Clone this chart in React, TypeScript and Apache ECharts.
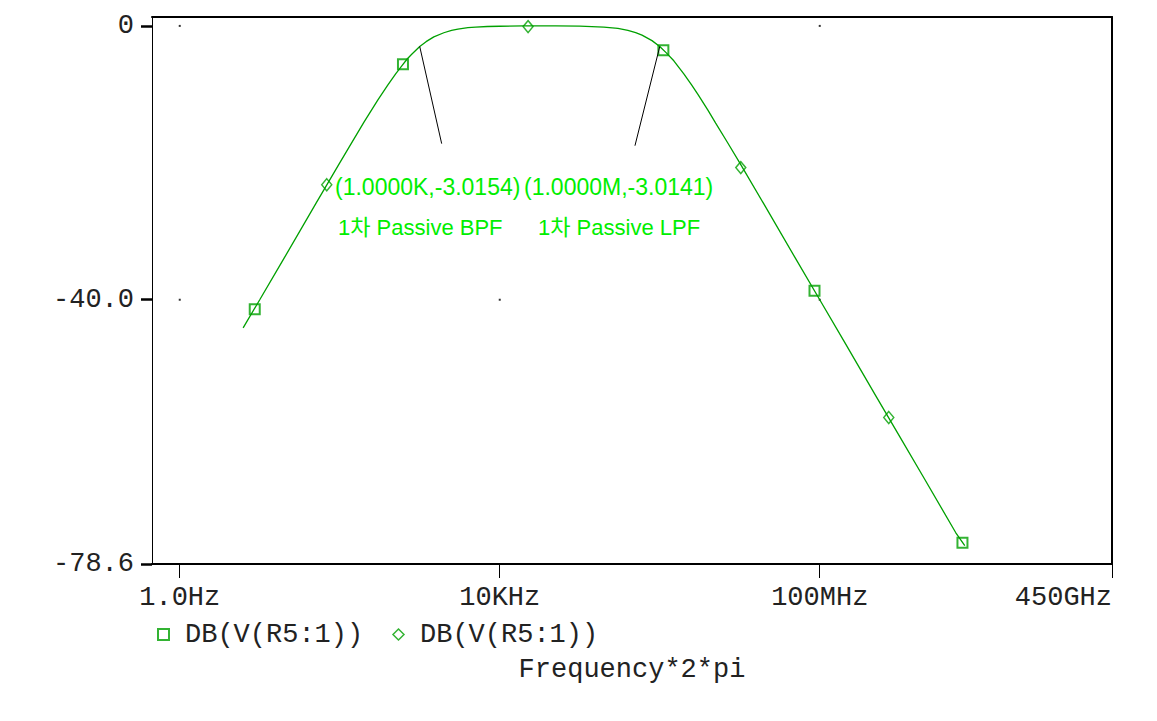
import React, { useEffect, useRef } from "react";
import * as echarts from "echarts";

// Trace: frequency (Hz) and magnitude (dB)
const freqHz = [
  6.2, 10, 20, 50, 100, 200, 300, 400, 500, 600, 700, 800, 1000, 1200, 1500, 2000, 2500, 3000, 4000, 5000, 7000,
  1e4, 2e4, 5e4, 1e5, 2e5, 3e5, 4e5, 5e5, 6e5, 8e5, 1e6, 1.2e6, 1.5e6, 2e6, 2.5e6, 3e6, 4e6, 5e6, 7e6, 1e7, 2e7,
  5e7, 1e8, 2e8, 5e8, 1e9, 2e9, 5e9, 6.5e9,
];
const gainDb = [
  -44.1, -40.0, -34.0, -26.0, -20.0, -14.1, -10.8, -8.6, -7.0, -5.8, -4.8, -4.1, -3.0, -2.3, -1.6, -1.0, -0.64, -0.46,
  -0.26, -0.17, -0.09, -0.05, -0.01, -0.01, -0.04, -0.17, -0.37, -0.64, -0.97, -1.34, -2.15, -3.0, -3.9, -5.1, -7.0,
  -8.6, -10.0, -12.3, -14.2, -17.0, -20.0, -26.0, -34.0, -40.0, -46.0, -54.0, -60.0, -66.0, -74.0, -75.9,
];

// Square markers
const squareFreq = [8.66, 617, 1.11e6, 8.6e7, 6.08e9];
const squareDb = [-41.4, -5.6, -3.55, -38.7, -75.5];
// Diamond markers
const diamondFreq = [68.8, 2.26e4, 1.03e7, 7.29e8];
const diamondDb = [-23.2, -0.1, -20.7, -57.2];

// Axes
const xMinHz = 0.45;
const xMaxHz = 450e9;
const xTickHz = [1, 1e4, 1e8, 450e9];
const xTickLabels = ["1.0Hz", "10KHz", "100MHz", "450GHz"];
const yMin = -78.6;
const yMax = 1.3;
const yTickVals = [0, -40, -78.6];
const yTickLabels = ["0", "-40.0", "-78.6"];

// Cursor annotations: [freq, dB] start (on trace) and end of leader lines
const cursorStart = [
  [1000, -3.0154],
  [1e6, -3.0141],
];
const cursorEnd = [
  [1880, -17.2],
  [4.9e5, -17.5],
];
const cursorTexts = ["(1.0000K,-3.0154)", "(1.0000M,-3.0141)"];
const noteTexts = ["1차 Passive BPF", "1차 Passive LPF"];

const gridDots = [
  [1, 0],
  [1e8, 0],
  [1, -40],
  [1e4, -40],
  [1e8, -40],
];

const lg = (v: number) => Math.log10(v);

export default function App() {
  const ref = useRef<HTMLDivElement>(null);
  useEffect(() => {
    if (!ref.current) return;
    const chart = echarts.init(ref.current, null, { renderer: "svg" });
    const green = "#00a000";
    const textGreen = "#00ee00";
    const mono = '"Liberation Mono", "Courier New", monospace';
    const xTickVals = xTickHz.map(lg);
    const xMin = lg(xMinHz);
    const xMax = lg(xMaxHz);
    const fmtX = (v: number) => {
      const i = xTickVals.findIndex((t) => Math.abs(t - v) < 1e-6);
      return i >= 0 ? xTickLabels[i] : "";
    };
    const fmtY = (v: number) => {
      const i = yTickVals.findIndex((t) => Math.abs(t - v) < 1e-6);
      return i >= 0 ? yTickLabels[i] : "";
    };
    const option: any = {
      animation: false,
      backgroundColor: "#ffffff",
      grid: { left: 152, right: 45, top: 17, bottom: 157, containLabel: false },
      xAxis: [
        {
          type: "value",
          min: xMin,
          max: xMax,
          position: "bottom",
          axisLine: { show: true, onZero: false, lineStyle: { color: "#000", width: 2 } },
          axisTick: { show: true, customValues: xTickVals, length: 14, lineStyle: { color: "#000", width: 1 } },
          axisLabel: {
            customValues: xTickVals,
            formatter: fmtX,
            fontFamily: mono,
            fontSize: 27,
            color: "#222",
            margin: 20,
            alignMaxLabel: "right",
          },
          splitLine: { show: false },
          name: "Frequency*2*pi",
          nameLocation: "middle",
          nameGap: 92,
          nameTextStyle: { fontFamily: mono, fontSize: 27, color: "#222", verticalAlign: "top" },
        },
        {
          type: "value",
          min: xMin,
          max: xMax,
          position: "top",
          axisLine: { show: true, onZero: false, lineStyle: { color: "#000", width: 2 } },
          axisTick: { show: false },
          axisLabel: { show: false },
          splitLine: { show: false },
        },
      ],
      yAxis: [
        {
          type: "value",
          min: yMin,
          max: yMax,
          position: "left",
          axisLine: { show: true, onZero: false, lineStyle: { color: "#000", width: 1 } },
          axisTick: { show: true, customValues: yTickVals, length: 11, lineStyle: { color: "#000", width: 2.5 } },
          axisLabel: {
            customValues: yTickVals,
            formatter: fmtY,
            fontFamily: mono,
            fontSize: 27,
            color: "#222",
            margin: 18,
          },
          splitLine: { show: false },
        },
        {
          type: "value",
          min: yMin,
          max: yMax,
          position: "right",
          axisLine: { show: true, onZero: false, lineStyle: { color: "#000", width: 2 } },
          axisTick: { show: false },
          axisLabel: { show: false },
          splitLine: { show: false },
        },
      ],
      legend: {
        left: 152,
        top: 616,
        itemWidth: 11,
        itemHeight: 11,
        itemGap: 29,
        formatter: () => "DB(V(R5:1))",
        textStyle: { fontFamily: mono, fontSize: 27, color: "#222", padding: [0, 0, 0, 11] },
        data: [
          { name: "sq", icon: "rect", itemStyle: { color: "#fff", borderColor: green, borderWidth: 2 } },
          { name: "dia", icon: "diamond", itemStyle: { color: "#fff", borderColor: green, borderWidth: 1.5 } },
        ],
      },
      series: [
        {
          type: "scatter",
          name: "dots",
          data: gridDots.map((d) => [lg(d[0]), d[1]]),
          symbol: "rect",
          symbolSize: 2,
          itemStyle: { color: "#000" },
          silent: true,
          z: 1,
        },
        {
          type: "line",
          name: "trace",
          data: freqHz.map((f, i) => [lg(f), gainDb[i]]),
          showSymbol: false,
          symbol: "none",
          lineStyle: { color: green, width: 1.3 },
          z: 3,
          markLine: {
            silent: true,
            symbol: "none",
            label: { show: false },
            lineStyle: { color: "#000", width: 1, type: "solid" },
            data: cursorStart.map((s, i) => [
              { coord: [lg(s[0]), s[1]] },
              { coord: [lg(cursorEnd[i][0]), cursorEnd[i][1]] },
            ]),
          },
        },
        {
          type: "scatter",
          name: "sq",
          data: squareFreq.map((f, i) => [lg(f), squareDb[i]]),
          symbol: "rect",
          symbolSize: 10,
          itemStyle: { color: "rgba(255,255,255,0)", borderColor: green, borderWidth: 2 },
          z: 4,
        },
        {
          type: "scatter",
          name: "dia",
          data: diamondFreq.map((f, i) => [lg(f), diamondDb[i]]),
          symbol: "diamond",
          symbolSize: [10, 12],
          itemStyle: { color: "rgba(255,255,255,0)", borderColor: green, borderWidth: 1.5 },
          z: 4,
        },
      ],
      graphic: [
        {
          type: "text",
          x: 335,
          y: 187,
          style: { text: cursorTexts[0], fill: textGreen, font: '23px "Liberation Sans", Arial, sans-serif', verticalAlign: "middle" },
        },
        {
          type: "text",
          x: 524,
          y: 187,
          style: { text: cursorTexts[1], fill: textGreen, font: '23px "Liberation Sans", Arial, sans-serif', verticalAlign: "middle" },
        },
        {
          type: "text",
          x: 338,
          y: 227,
          style: {
            text: noteTexts[0],
            fill: textGreen,
            font: '22px "Liberation Sans", "Noto Sans CJK KR", sans-serif',
            verticalAlign: "middle",
          },
        },
        {
          type: "text",
          x: 538,
          y: 227,
          style: {
            text: noteTexts[1],
            fill: textGreen,
            font: '22px "Liberation Sans", "Noto Sans CJK KR", sans-serif',
            verticalAlign: "middle",
          },
        },
      ],
    };
    chart.setOption(option);
    return () => chart.dispose();
  }, []);
  return <div ref={ref} style={{ position: "fixed", left: 0, top: 0, width: 1157, height: 721 }} />;
}
